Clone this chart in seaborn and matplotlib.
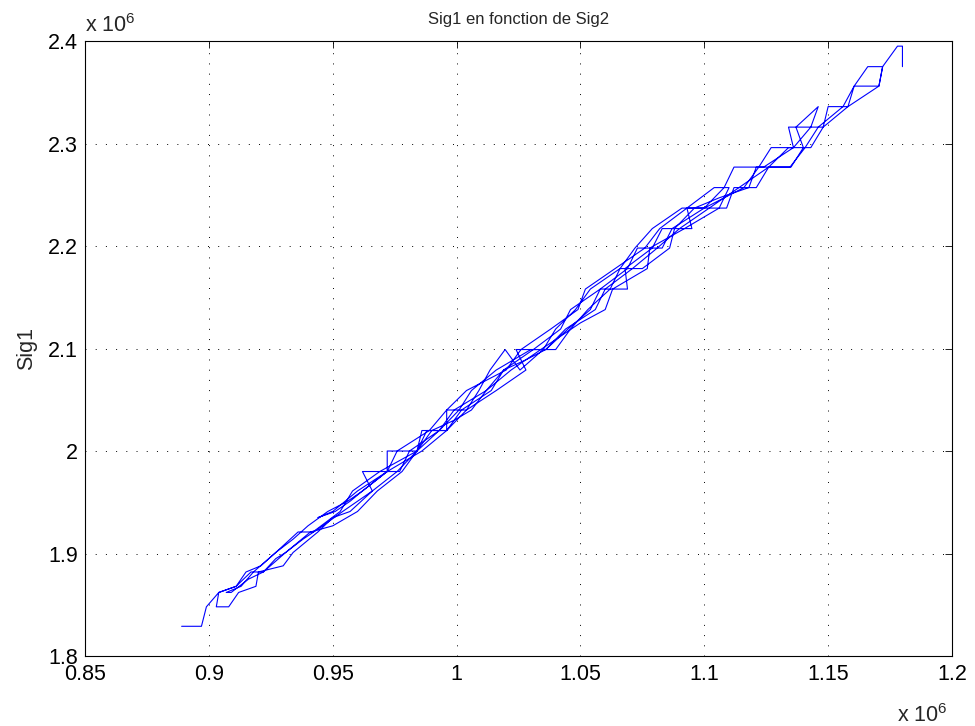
import numpy as np
import pandas as pd
import seaborn as sns
import matplotlib.pyplot as plt
from matplotlib.ticker import FuncFormatter

# Sig2 (x) / Sig1 (y), in units of 1e6
sig2_p1 = [0.889, 0.897, 0.899, 0.904, 0.911, 0.915, 0.921, 0.927, 0.934, 0.940, 0.948, 0.956, 0.962,
           0.972, 0.972, 0.984, 0.988, 0.996, 1.004, 1.009, 1.0135, 1.0196, 1.0256, 1.035, 1.040, 1.048,
           1.054, 1.066, 1.072, 1.079, 1.091, 1.109, 1.112, 1.121, 1.126, 1.134, 1.143, 1.148, 1.150,
           1.158, 1.1605]
sig1_p1 = [1.829, 1.829, 1.848, 1.862, 1.868, 1.882, 1.888, 1.901, 1.914, 1.927, 1.941, 1.951, 1.961,
           1.980, 2.000, 2.000, 2.020, 2.020, 2.040, 2.059, 2.079, 2.099, 2.079, 2.099, 2.119, 2.138,
           2.158, 2.178, 2.198, 2.217, 2.237, 2.237, 2.257, 2.257, 2.277, 2.296, 2.296, 2.316, 2.336,
           2.336, 2.356]

sig2_p2 = [1.166, 1.172, 1.1705, 1.158, 1.148, 1.134, 1.136, 1.124, 1.112, 1.108, 1.100, 1.093, 1.095,
           1.083, 1.079, 1.068, 1.069, 1.058, 1.054, 1.045, 1.036, 1.024, 1.028, 1.016, 1.004, 0.996,
           0.996, 0.986, 0.984, 0.978, 0.968, 0.960, 0.950, 0.941, 0.931, 0.922, 0.917, 0.911, 0.904,
           0.903]
sig1_p2 = [2.375, 2.375, 2.356, 2.336, 2.316, 2.316, 2.296, 2.277, 2.277, 2.257, 2.237, 2.237, 2.217,
           2.217, 2.198, 2.178, 2.158, 2.158, 2.138, 2.119, 2.099, 2.099, 2.079, 2.059, 2.040, 2.040,
           2.020, 2.020, 2.000, 1.980, 1.961, 1.941, 1.927, 1.921, 1.901, 1.882, 1.882, 1.868, 1.862,
           1.848]

sig2_p3 = [0.908, 0.912, 0.919, 0.920, 0.930, 0.934, 0.944, 0.950, 0.957, 0.966, 0.962, 0.977, 0.981,
           0.993, 1.001, 1.006, 1.016, 1.030, 1.040, 1.046, 1.053, 1.062, 1.066, 1.075, 1.086, 1.088,
           1.096, 1.106, 1.118, 1.121, 1.135, 1.140, 1.137, 1.146]
sig1_p3 = [1.848, 1.862, 1.868, 1.882, 1.888, 1.901, 1.921, 1.935, 1.941, 1.961, 1.980, 1.980, 2.000,
           2.020, 2.040, 2.059, 2.079, 2.099, 2.099, 2.119, 2.138, 2.158, 2.178, 2.178, 2.198, 2.217,
           2.237, 2.247, 2.257, 2.277, 2.277, 2.296, 2.316, 2.336]

sig2_p4 = [1.143, 1.136, 1.127, 1.122, 1.116, 1.100, 1.087, 1.083, 1.073, 1.069, 1.058, 1.046, 1.042,
           1.031, 1.019, 1.012, 0.999, 0.993, 0.984, 0.969, 0.958, 0.953, 0.942, 0.936, 0.927, 0.918,
           0.913, 0.907]
sig1_p4 = [2.316, 2.296, 2.296, 2.277, 2.257, 2.237, 2.217, 2.198, 2.198, 2.178, 2.158, 2.138, 2.119,
           2.099, 2.079, 2.059, 2.040, 2.020, 2.000, 1.980, 1.961, 1.941, 1.921, 1.921, 1.901, 1.882,
           1.868, 1.862]

sig2_p5 = [0.909, 0.916, 0.922, 0.927, 0.931, 0.938, 0.946, 0.954, 0.966, 0.976, 0.984, 0.990, 0.999,
           1.006, 1.012, 1.022, 1.034, 1.042, 1.050, 1.060, 1.063, 1.077, 1.078, 1.092, 1.106, 1.110]
sig1_p5 = [1.862, 1.875, 1.882, 1.895, 1.901, 1.914, 1.927, 1.941, 1.961, 1.980, 2.000, 2.020, 2.030,
           2.040, 2.059, 2.079, 2.099, 2.112, 2.125, 2.138, 2.158, 2.178, 2.198, 2.217, 2.237, 2.257]

sig2_p6 = [1.104, 1.093, 1.082, 1.076, 1.064, 1.052, 1.049, 1.038, 1.026, 1.020, 1.004, 0.996, 0.989,
           0.976, 0.972, 0.960, 0.950, 0.944]
sig1_p6 = [2.257, 2.237, 2.217, 2.198, 2.178, 2.158, 2.138, 2.119, 2.099, 2.079, 2.059, 2.040, 2.020,
           2.000, 1.980, 1.961, 1.941, 1.935]

sig2_p7 = [0.951, 0.957, 0.962, 0.972, 0.986, 0.996, 1.002, 1.014, 1.019, 1.028, 1.036, 1.044, 1.056,
           1.060, 1.071, 1.081, 1.090, 1.102, 1.114, 1.126, 1.1346, 1.1407, 1.146, 1.156, 1.1605,
           1.1705, 1.172, 1.178, 1.180, 1.180]
sig1_p7 = [1.941, 1.951, 1.961, 1.980, 2.000, 2.020, 2.040, 2.059, 2.079, 2.089, 2.099, 2.119, 2.138,
           2.158, 2.178, 2.198, 2.217, 2.237, 2.257, 2.277, 2.277, 2.296, 2.316, 2.336, 2.356,
           2.356, 2.375, 2.395, 2.395, 2.375]

xticks = [0.85, 0.9, 0.95, 1.0, 1.05, 1.1, 1.15, 1.2]
yticks = [1.8, 1.9, 2.0, 2.1, 2.2, 2.3, 2.4]

sig2 = sig2_p1 + sig2_p2 + sig2_p3 + sig2_p4 + sig2_p5 + sig2_p6 + sig2_p7
sig1 = sig1_p1 + sig1_p2 + sig1_p3 + sig1_p4 + sig1_p5 + sig1_p6 + sig1_p7
df = pd.DataFrame({'Sig2': sig2, 'Sig1': sig1})

sns.set_style('white')
plt.rcParams['font.family'] = ['Liberation Sans', 'DejaVu Sans']
plt.rcParams['mathtext.default'] = 'regular'

fig = plt.figure(figsize=(9.75, 7.26), dpi=100)
ax = fig.add_axes([0.0872, 0.0964, 0.8892, 0.8471])

sns.lineplot(data=df, x='Sig2', y='Sig1', sort=False, estimator=None,
             color='#0000ff', linewidth=0.8, ax=ax)

ax.set_xlim(0.85, 1.2)
ax.set_ylim(1.8, 2.4)
ax.set_xticks(xticks)
ax.set_yticks(yticks)
fmt = FuncFormatter(lambda v, p: '%g' % round(v, 3))
ax.xaxis.set_major_formatter(fmt)
ax.yaxis.set_major_formatter(fmt)
ax.grid(True, color='black', linestyle=(0, (1, 9.5)), linewidth=0.7)
for s in ax.spines.values():
    s.set_color('black')
    s.set_linewidth(0.8)
ax.tick_params(direction='in', top=True, right=True, length=5, width=0.6,
               labelsize=15.5, colors='black')
ax.tick_params(axis='x', pad=5.5)
ax.tick_params(axis='y', pad=5)

ax.set_xlabel('')
ax.set_ylabel('Sig1', fontsize=15.5, labelpad=8)
ax.set_title('Sig1 en fonction de Sig2', fontsize=12, pad=12)

fig.text(0.0872, 0.956, r'x 10$^{6}$', fontsize=15.5, ha='left', va='baseline')
fig.text(0.972, 0.006, r'x 10$^{6}$', fontsize=15.5, ha='right', va='baseline')

fig.savefig('out.png', dpi=100, facecolor='white')
